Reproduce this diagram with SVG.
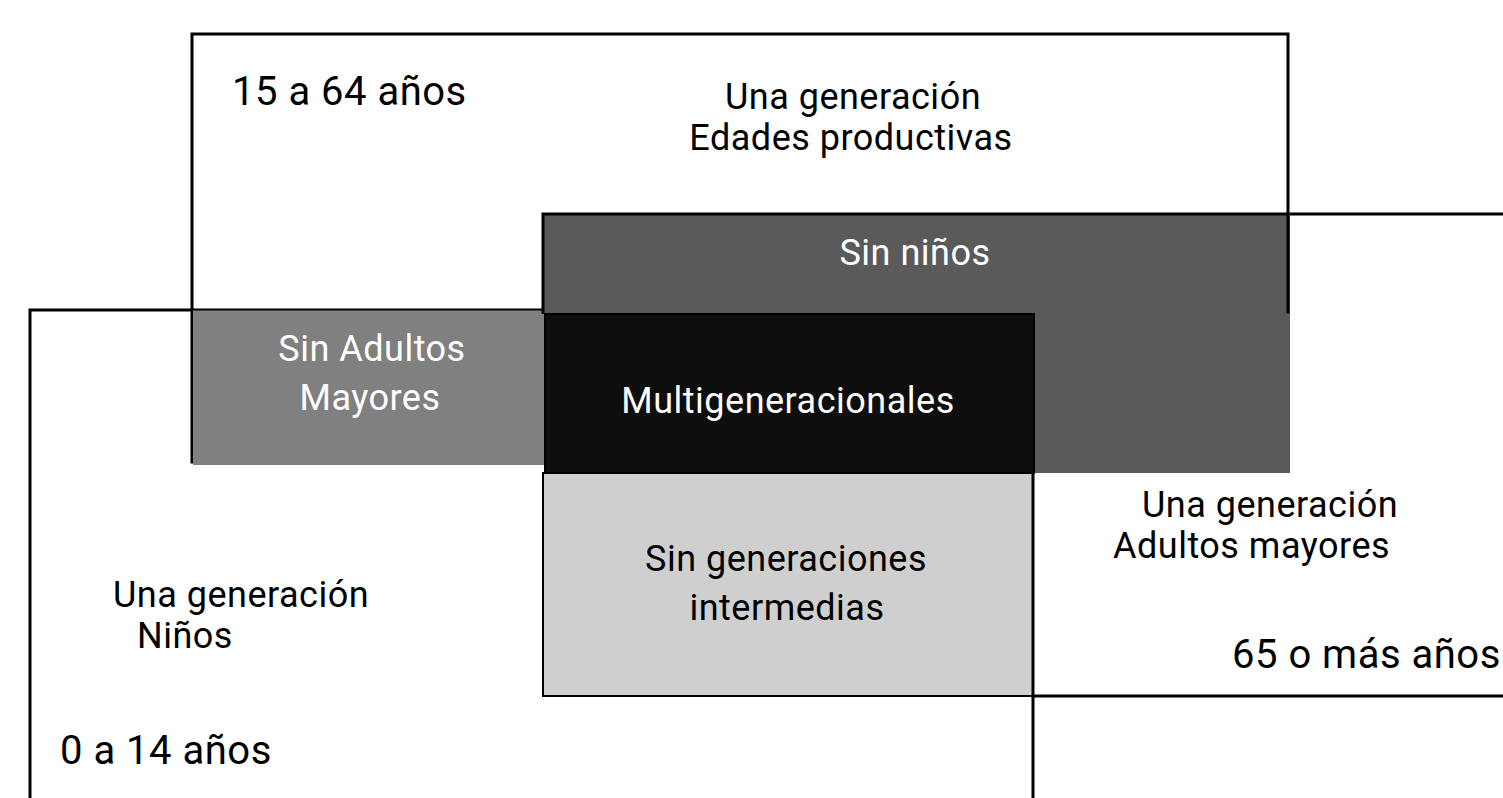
<svg xmlns="http://www.w3.org/2000/svg" width="1503" height="798" viewBox="0 0 1503 798">
<style>
.ln{stroke:#000;stroke-width:3;fill:none;stroke-linecap:square}
.t{font-family:Roboto,"DejaVu Sans",sans-serif;font-size:36px;fill:#000;letter-spacing:0.5px}
.big{font-size:40px}
.w{fill:#fff}
.m{text-anchor:middle}
</style>
<rect width="1503" height="798" fill="#fff"/>
<g id="connectors">
<path class="ln" d="M192,462 V34 H1288 V312"/>
<path class="ln" d="M30,798 V310 H192"/>
<path class="ln" d="M1288,214 H1503"/>
<path class="ln" d="M1033,798 V696 H1503"/>
</g>
<g id="sin-adultos-mayores">
<rect x="193" y="309" width="354" height="156" fill="#808080"/>
<path d="M192,309.5 H547" stroke="#000" stroke-width="2"/>
<text class="t w m" x="372" y="361">Sin Adultos</text>
<text class="t w m" x="370" y="410">Mayores</text>
</g>
<g id="sin-ninos">
<path d="M543,213 H1290 V473 H1033 V313 H543 Z" fill="#5a5a5a"/>
<path d="M543,314 V214 H1288" stroke="#000" stroke-width="3" fill="none"/>
<path class="ln" d="M1288,214 V312"/>
<text class="t w m" x="915" y="265">Sin niños</text>
</g>
<g id="multigeneracionales">
<rect x="545" y="314" width="489" height="159" fill="#0e0e0e" stroke="#000" stroke-width="2"/>
<text class="t w m" x="788" y="413">Multigeneracionales</text>
</g>
<g id="sin-generaciones-intermedias">
<rect x="543" y="473" width="490" height="223" fill="#d0cfd0" stroke="#000" stroke-width="2"/>
<path class="ln" d="M1033,473 V696"/>
<text class="t m" x="786" y="571">Sin generaciones</text>
<text class="t m" x="787" y="620">intermedias</text>
</g>
<g id="labels">
<text class="t big" x="232" y="105">15 a 64 años</text>
<text class="t m" x="853" y="109">Una generación</text>
<text class="t m" x="851" y="150">Edades productivas</text>
<text class="t" x="1142" y="517">Una generación</text>
<text class="t" x="1113" y="558">Adultos mayores</text>
<text class="t big" x="1232" y="668">65 o más años</text>
<text class="t" x="113" y="607">Una generación</text>
<text class="t" x="137" y="648">Niños</text>
<text class="t big" x="60" y="764">0 a 14 años</text>
</g>
</svg>
